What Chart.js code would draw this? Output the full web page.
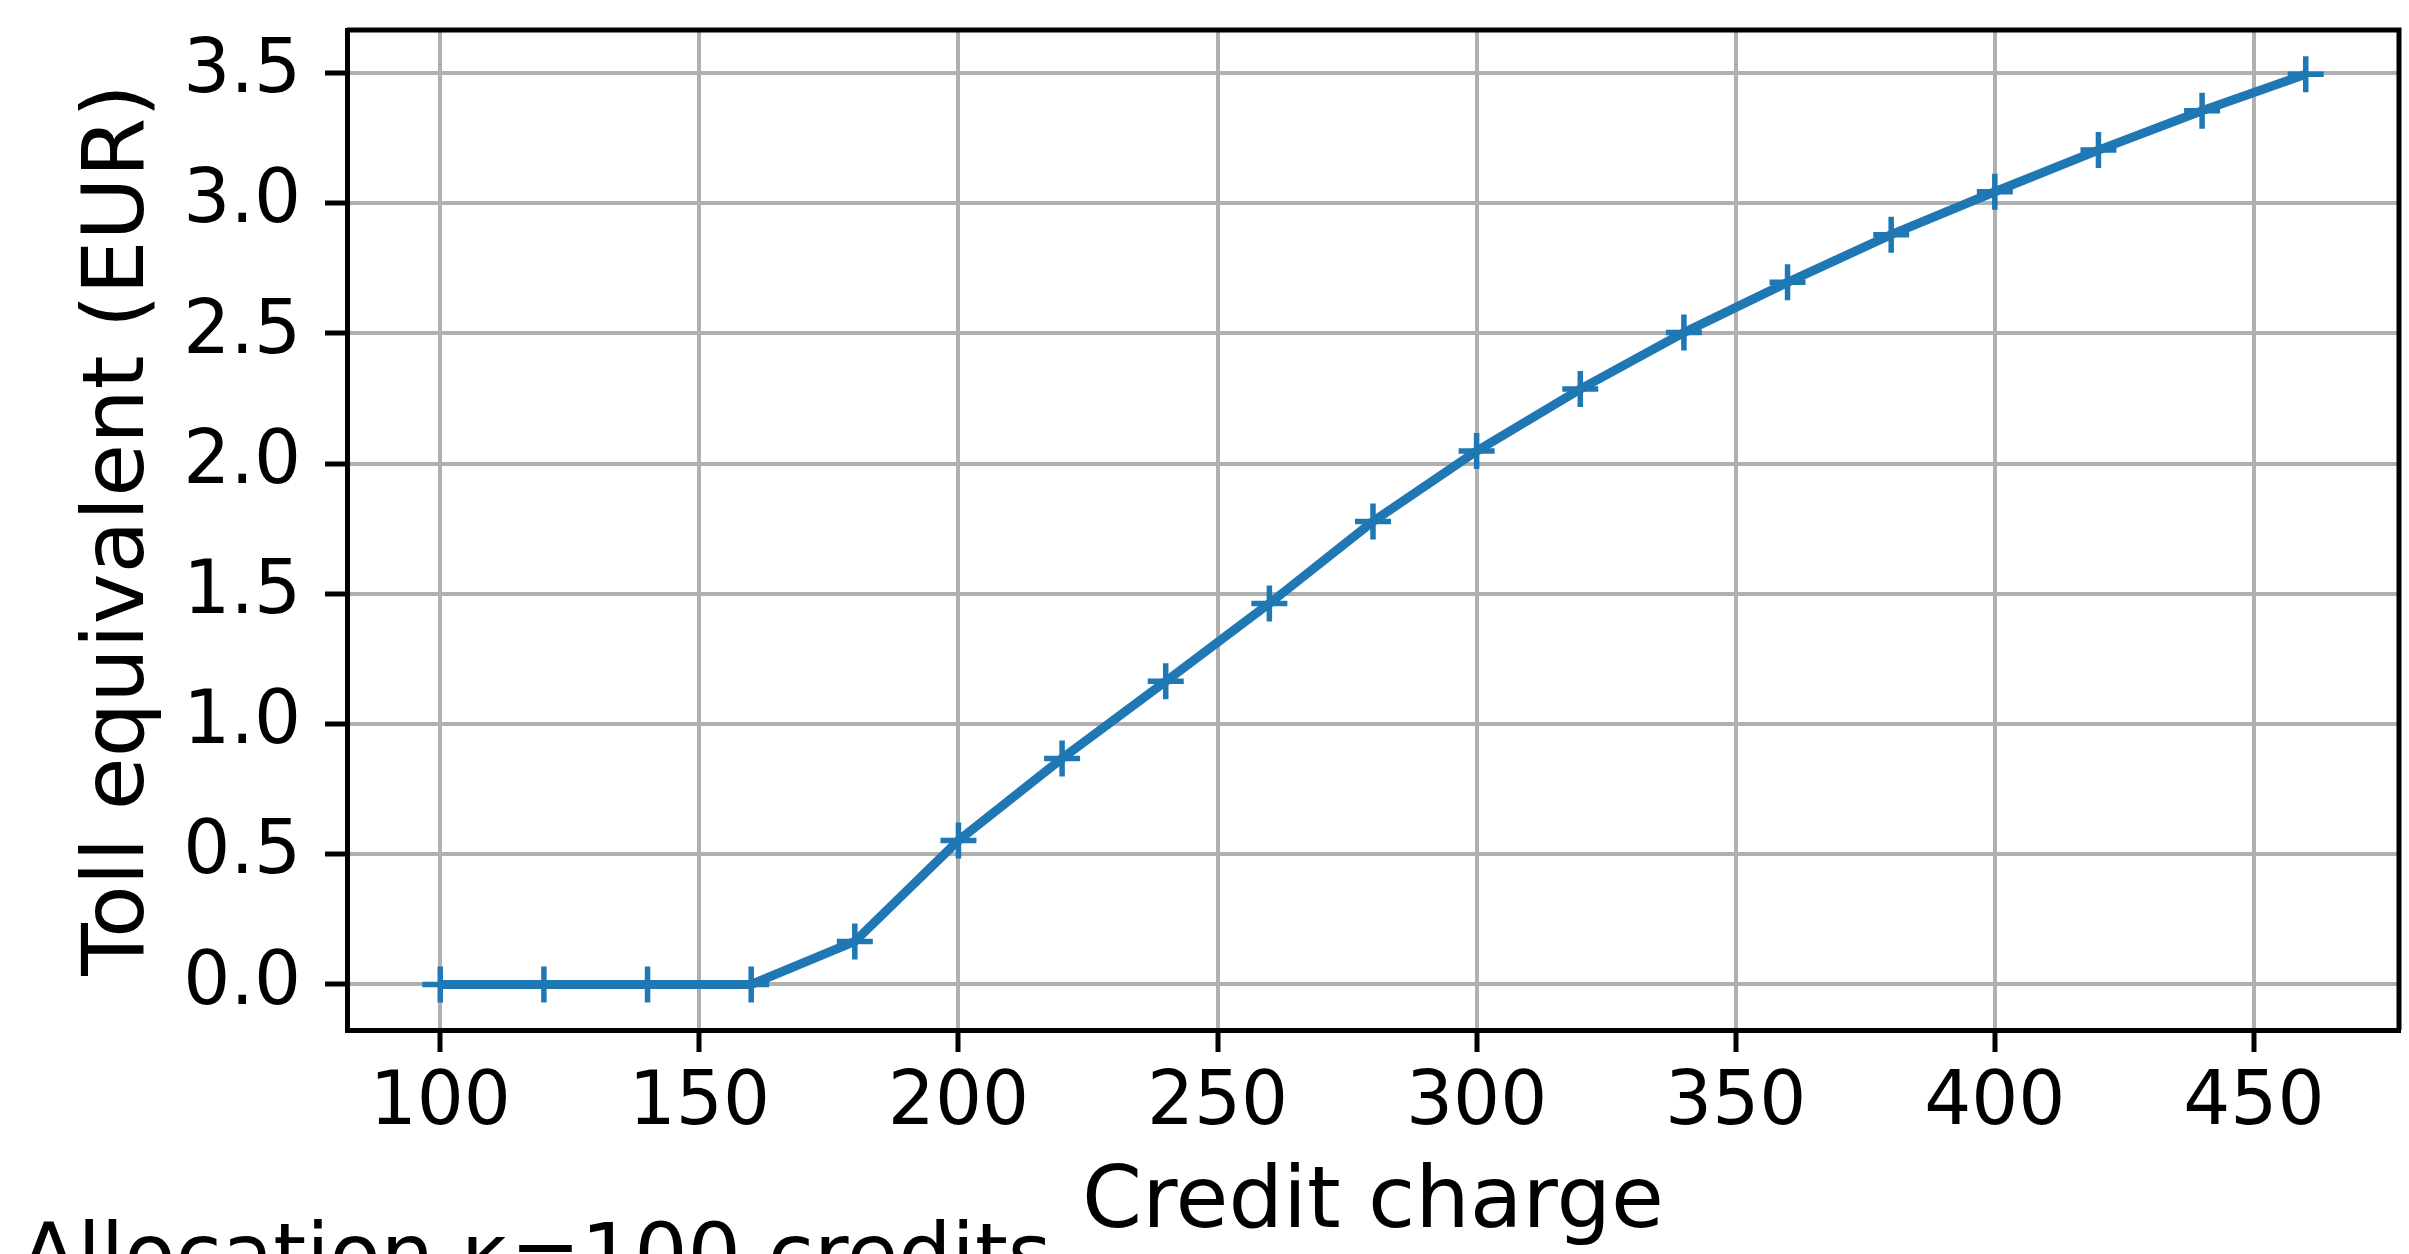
<!DOCTYPE html>
<html>
<head>
<meta charset="utf-8">
<script src="https://cdn.jsdelivr.net/npm/chart.js@4/dist/chart.umd.min.js"></script>
<style>
	html, body { margin: 0; padding: 0; background: #fff; overflow: hidden; }
	#chart { display: block; }
</style>
</head>
<body>
<canvas id="chart" width="2409" height="1254"></canvas>
<script>
var credits = [100, 120, 140, 160, 180, 200, 220, 240, 260, 280, 300, 320, 340, 360, 380, 400, 420, 440, 460];
var toll = [0, 0, 0, 0, 0.165, 0.553, 0.868, 1.164, 1.463, 1.778, 2.048, 2.286, 2.503, 2.696, 2.879, 3.044, 3.204, 3.355, 3.495];
var xTitle = "Credit charge";
var yTitle = "Toll equivalent (EUR)";
var noteText = "Allocation \u03ba=100 credits";

var fontName = "'DejaVu Sans', sans-serif";
var blue = "#1f77b4";

var points = [];
for (var i = 0; i < credits.length; i++) {
	points.push({x: credits[i], y: toll[i]});
}

// top and right spines plus the note cut off at the bottom
var frame = {
	id: "frame",
	afterDraw: function(chart) {
		var ctx = chart.ctx, a = chart.chartArea;
		ctx.save();
		ctx.strokeStyle = "#000";
		ctx.lineWidth = 5;
		ctx.beginPath();
		ctx.moveTo(a.left, a.top);
		ctx.lineTo(a.right, a.top);
		ctx.lineTo(a.right, a.bottom);
		ctx.stroke();
		ctx.fillStyle = "#000";
		ctx.font = "84px " + fontName;
		ctx.textBaseline = "alphabetic";
		ctx.fillText(noteText, 20, 1283);
		ctx.restore();
	}
};

new Chart(document.getElementById("chart"), {
	type: "line",
	data: {
		datasets: [{
			data: points,
			borderColor: blue,
			backgroundColor: blue,
			borderWidth: 9,
			pointStyle: "cross",
			pointRadius: 18,
			pointBorderWidth: 5.5,
			pointBorderColor: blue,
			tension: 0,
			fill: false
		}]
	},
	options: {
		responsive: false,
		animation: false,
		layout: { autoPadding: false, padding: { top: 30, right: 10, left: 0, bottom: 0 } },
		plugins: { legend: { display: false }, tooltip: { enabled: false } },
		scales: {
			x: {
				type: "linear",
				min: 82,
				max: 478,
				afterFit: function(s) {
					s.height = 224;
					s.paddingLeft = 0;
					s.paddingRight = 0;
				},
				border: { color: "#000", width: 5 },
				grid: { color: "#b0b0b0", lineWidth: 4, tickColor: "#000", tickLength: 22, tickWidth: 5 },
				ticks: {
					stepSize: 50,
					includeBounds: false,
					padding: 8,
					color: "#000",
					font: { family: fontName, size: 74 },
					maxRotation: 0
				},
				title: {
					display: true,
					text: xTitle,
					color: "#000",
					font: { family: fontName, size: 86, lineHeight: 1 },
					padding: { top: 0, bottom: 6 }
				}
			},
			y: {
				min: -0.175,
				max: 3.665,
				afterFit: function(s) {
					s.width = 347;
					s.paddingTop = 0;
					s.paddingBottom = 0;
				},
				border: { color: "#000", width: 5 },
				grid: { color: "#b0b0b0", lineWidth: 4, tickColor: "#000", tickLength: 22, tickWidth: 5 },
				ticks: {
					stepSize: 0.5,
					includeBounds: false,
					padding: 24,
					color: "#000",
					font: { family: fontName, size: 74 },
					callback: function(v) { return v.toFixed(1); }
				},
				title: {
					display: true,
					text: yTitle,
					color: "#000",
					font: { family: fontName, size: 86, lineHeight: 1 },
					padding: { top: 78, bottom: 0 }
				}
			}
		}
	},
	plugins: [frame]
});
</script>
</body>
</html>
